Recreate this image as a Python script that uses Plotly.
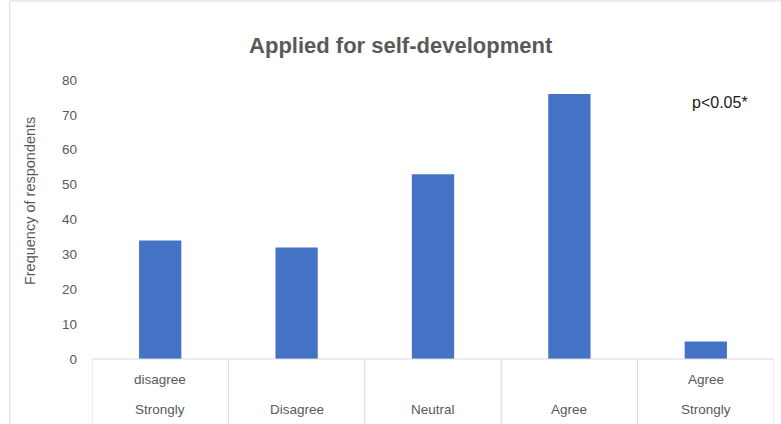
import plotly.graph_objects as go

# Survey responses: frequency per agreement level
categories = ["Strongly disagree", "Disagree", "Neutral", "Agree", "Agree Strongly"]
frequency = [34, 32, 53, 76, 5]
# Two-row category labels (upper row, lower row)
label_top = ["disagree", "", "", "", "Agree"]
label_bottom = ["Strongly", "Disagree", "Neutral", "Agree", "Strongly"]
y_ticks = [0, 10, 20, 30, 40, 50, 60, 70, 80]

GRID = "#d9d9d9"
TEXT = "#595959"
FONT = "Liberation Sans"

fig = go.Figure(
    go.Bar(
        x=list(range(len(categories))),
        y=frequency,
        width=0.31,
        marker=dict(color="#4472C4", line=dict(width=0)),
        hovertext=categories,
    )
)

# Category table below the bars
shapes = []
for i in range(len(categories) + 1):
    shapes.append(dict(type="line", xref="x", yref="paper",
                       x0=i - 0.5, x1=i - 0.5, y0=0, y1=-0.25,
                       line=dict(color=GRID, width=1)))
shapes.append(dict(type="line", xref="paper", yref="paper",
                   x0=0, x1=1, y0=0, y1=0, line=dict(color=GRID, width=1)))
# Chart frame
shapes.append(dict(type="line", xref="paper", yref="paper",
                   x0=-0.1206, x1=-0.1206, y0=1.2832, y1=-0.3, line=dict(color=GRID, width=1)))
shapes.append(dict(type="line", xref="paper", yref="paper",
                   x0=-0.1206, x1=1.02, y0=1.2832, y1=1.2832, line=dict(color=GRID, width=1)))

annotations = []
for i in range(len(categories)):
    if label_top[i]:
        annotations.append(dict(x=i, y=-0.075, xref="x", yref="paper", text=label_top[i],
                                xanchor="center", yanchor="middle", showarrow=False,
                                font=dict(family=FONT, size=13.5, color=TEXT)))
    annotations.append(dict(x=i, y=-0.1826, xref="x", yref="paper", text=label_bottom[i],
                            xanchor="center", yanchor="middle", showarrow=False,
                            font=dict(family=FONT, size=13.5, color=TEXT)))
annotations.append(dict(x=0.921, y=0.918, xref="paper", yref="paper", text="p<0.05*",
                        xanchor="center", yanchor="middle", showarrow=False,
                        font=dict(family=FONT, size=16, color="#1a1a1a")))
# Vertical axis title
annotations.append(dict(x=-0.0909, y=0.566, xref="paper", yref="paper",
                        text="Frequency of respondents", textangle=-90,
                        xanchor="center", yanchor="middle", showarrow=False,
                        font=dict(family=FONT, size=14.5, color=TEXT)))

fig.update_layout(
    width=781, height=424,
    margin=dict(l=92, r=7, t=80, b=65),
    paper_bgcolor="white", plot_bgcolor="white",
    showlegend=False,
    title=dict(text="<b>Applied for self-development</b>", x=0.513, xanchor="center",
               y=0.894, yanchor="middle",
               font=dict(family=FONT, size=22, color=TEXT)),
    xaxis=dict(range=[-0.5, len(categories) - 0.5], showticklabels=False,
               showgrid=False, zeroline=False, showline=False, ticks=""),
    yaxis=dict(range=[0, 80], tickvals=y_ticks, showgrid=False, zeroline=False,
               showline=False, ticks="", ticklabelstandoff=14,
               tickfont=dict(family=FONT, size=13.5, color=TEXT)),
    shapes=shapes,
    annotations=annotations,
)

fig.write_html("out.html")
